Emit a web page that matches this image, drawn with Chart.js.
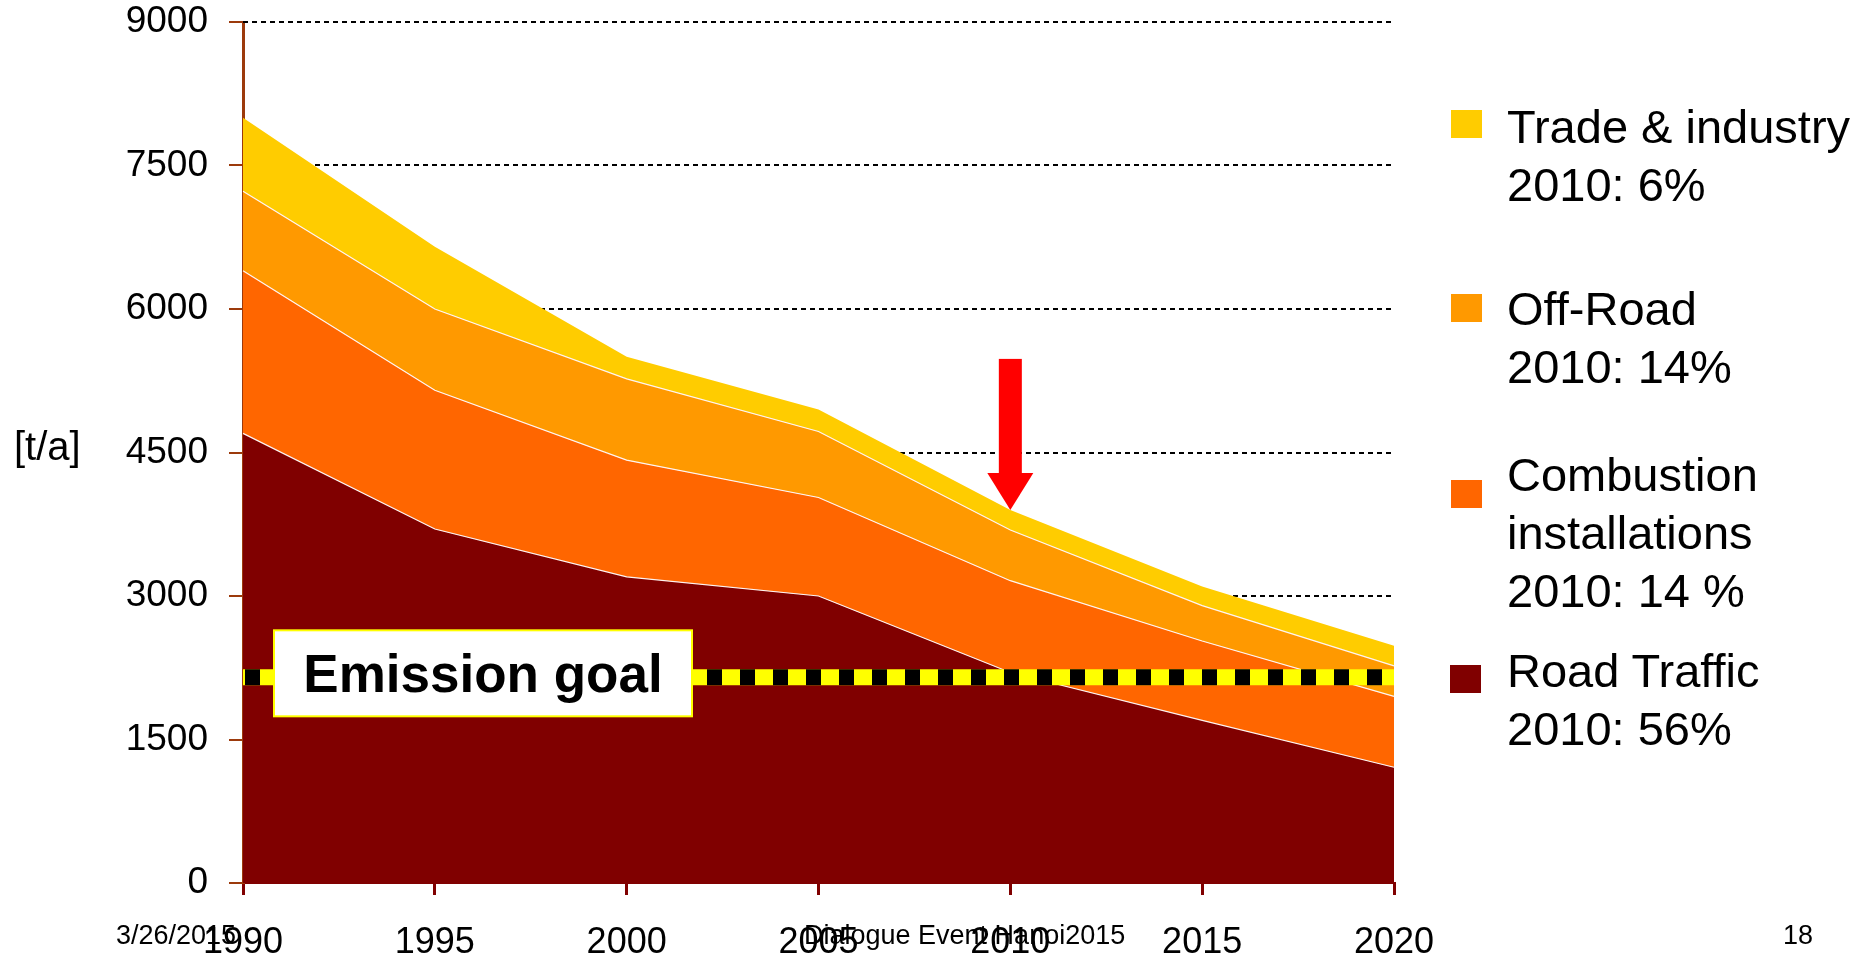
<!DOCTYPE html>
<html lang="en">

<head>
    <meta charset="UTF-8">
    <title>Emissions [t/a]</title>
    <script src="https://cdn.jsdelivr.net/npm/chart.js"></script>

    <style>
        body {
            margin: 0;
            background: #fff;
            overflow: hidden;
            font-family: 'Liberation Sans', Arial, sans-serif;
            color: #000;
        }

        .slide {
            position: relative;
            width: 1868px;
            height: 960px;
        }

        canvas {
            position: absolute;
            left: 0;
            top: 0;
            display: block;
        }

        .legend-box {
            position: absolute;
            width: 31px;
            height: 28px;
        }

        .legend-text {
            position: absolute;
            left: 1507px;
            font-size: 47px;
            line-height: 58px;
            white-space: nowrap;
        }

        .unit {
            position: absolute;
            left: 14px;
            top: 426px;
            font-size: 40px;
            line-height: 40px;
        }

        .footer {
            position: absolute;
            top: 922px;
            font-size: 27px;
            line-height: 27px;
            white-space: nowrap;
        }
    </style>
</head>

<body>
    <div class="slide">
        <canvas id="grafico" width="1868" height="960"></canvas>

        <div class="unit">[t/a]</div>

        <div class="legend-box" style="left:1451px; top:110px; background:#FFCC00"></div>
        <div class="legend-text" style="top:98px">Trade &amp; industry<br>2010: 6%</div>

        <div class="legend-box" style="left:1451px; top:294px; background:#FF9900"></div>
        <div class="legend-text" style="top:280px">Off-Road<br>2010: 14%</div>

        <div class="legend-box" style="left:1451px; top:480px; background:#FF6600"></div>
        <div class="legend-text" style="top:446px">Combustion<br>installations<br>2010: 14 %</div>

        <div class="legend-box" style="left:1450px; top:665px; background:#800000"></div>
        <div class="legend-text" style="top:642px">Road Traffic<br>2010: 56%</div>

        <div class="footer" style="left:116px">3/26/2015</div>
        <div class="footer" style="left:804px">Dialogue Event Hanoi2015</div>
        <div class="footer" style="left:1783px">18</div>
    </div>

    <script>
        // emissions per source, t/a (stacked from the bottom)
        const anos = ['1990', '1995', '2000', '2005', '2010', '2015', '2020'];
        const roadTraffic = [4700, 3700, 3200, 3000, 2200, 1700, 1210];
        const combustion = [1700, 1450, 1220, 1030, 960, 830, 740];
        const offRoad = [830, 850, 850, 690, 530, 370, 320];
        const tradeIndustry = [770, 650, 230, 230, 210, 200, 210];
        const yTicks = [0, 1500, 3000, 4500, 6000, 7500, 9000];
        const emissionGoal = 2150;
        const anoSeta = '2010';

        const fonte = "'Liberation Sans', Arial, sans-serif";

        // dotted grid lines behind the areas
        const gradePontilhada = {
            id: 'gradePontilhada',
            beforeDatasetsDraw(chart) {
                const { ctx, chartArea, scales } = chart;
                ctx.save();
                ctx.strokeStyle = '#000';
                ctx.lineWidth = 2;
                ctx.setLineDash([5, 4]);
                yTicks.forEach(v => {
                    if (v === 0) return;
                    const y = Math.round(scales.y.getPixelForValue(v));
                    ctx.beginPath();
                    ctx.moveTo(chartArea.left, y);
                    ctx.lineTo(chartArea.right, y);
                    ctx.stroke();
                });
                ctx.restore();
            }
        };

        // goal line, its label and the arrow on the 2010 total
        const meta = {
            id: 'meta',
            afterDatasetsDraw(chart) {
                const { ctx, chartArea, scales } = chart;
                const y = scales.y.getPixelForValue(emissionGoal);
                const xFim = scales.x.getPixelForValue(anos.length - 1);

                ctx.save();
                ctx.lineWidth = 16;
                ctx.strokeStyle = '#FFFF00';
                ctx.beginPath();
                ctx.moveTo(chartArea.left, y);
                ctx.lineTo(xFim, y);
                ctx.stroke();
                ctx.strokeStyle = '#000';
                ctx.setLineDash([15, 18]);
                ctx.lineDashOffset = -2;
                ctx.beginPath();
                ctx.moveTo(chartArea.left, y);
                ctx.lineTo(xFim, y);
                ctx.stroke();
                ctx.setLineDash([]);

                // label box
                const bx = chartArea.left + 31, by = y - 47, bw = 418, bh = 86;
                ctx.fillStyle = '#fff';
                ctx.fillRect(bx, by, bw, bh);
                ctx.lineWidth = 2;
                ctx.strokeStyle = '#FFFF00';
                ctx.strokeRect(bx, by, bw, bh);
                ctx.fillStyle = '#000';
                ctx.font = 'bold 53px ' + fonte;
                ctx.textAlign = 'center';
                ctx.textBaseline = 'alphabetic';
                ctx.fillText('Emission goal', bx + bw / 2, by + 62);

                // red arrow pointing at the 2010 total
                const i = anos.indexOf(anoSeta);
                const total = roadTraffic[i] + combustion[i] + offRoad[i] + tradeIndustry[i];
                const tx = scales.x.getPixelForValue(i);
                const ty = scales.y.getPixelForValue(total);
                ctx.fillStyle = '#FF0000';
                ctx.fillRect(tx - 11.5, ty - 151, 23, 115);
                ctx.beginPath();
                ctx.moveTo(tx - 23, ty - 37);
                ctx.lineTo(tx + 23, ty - 37);
                ctx.lineTo(tx, ty);
                ctx.closePath();
                ctx.fill();
                ctx.restore();
            }
        };

        function area(label, data, cor, fill, borda) {
            return {
                label: label,
                data: data,
                backgroundColor: cor,
                borderColor: borda ? '#FFF4F0' : cor,
                borderWidth: borda ? 1.2 : 0,
                fill: fill,
                pointRadius: 0,
                tension: 0
            };
        }

        const ctx = document.getElementById('grafico');

        let grafico = new Chart(ctx, {
            type: 'line',
            data: {
                labels: anos,
                datasets: [
                    area('Road Traffic', roadTraffic, '#800000', 'origin', true),
                    area('Combustion installations', combustion, '#FF6600', '-1', true),
                    area('Off-Road', offRoad, '#FF9900', '-1', true),
                    area('Trade & industry', tradeIndustry, '#FFCC00', '-1', false)
                ]
            },
            options: {
                responsive: false,
                animation: false,
                layout: {
                    padding: { left: 0, top: 0, right: 474, bottom: 0 }
                },
                plugins: {
                    legend: { display: false },
                    tooltip: { enabled: false }
                },
                scales: {
                    x: {
                        grid: {
                            drawOnChartArea: false,
                            tickLength: 12,
                            color: '#800000',
                            lineWidth: 3
                        },
                        border: { color: '#800000', width: 2 },
                        ticks: {
                            font: { family: fonte, size: 36 },
                            color: '#000',
                            padding: 26,
                            maxRotation: 0,
                            autoSkip: false
                        },
                        afterFit: s => { s.height = 77; }
                    },
                    y: {
                        stacked: true,
                        min: 0,
                        max: 9000,
                        z: 1,
                        afterBuildTicks: s => { s.ticks = yTicks.map(v => ({ value: v })); },
                        grid: {
                            drawOnChartArea: false,
                            tickLength: 14,
                            color: '#9C3A0C',
                            lineWidth: 2
                        },
                        border: { color: '#9C3A0C', width: 3 },
                        ticks: {
                            font: { family: fonte, size: 37 },
                            color: '#000',
                            padding: 21,
                            callback: v => String(v)
                        },
                        afterFit: s => {
                            s.width = 243;
                            s.paddingTop = 22;
                            s.paddingBottom = 0;
                        }
                    }
                }
            },
            plugins: [gradePontilhada, meta]
        });
    </script>
</body>
</html>
